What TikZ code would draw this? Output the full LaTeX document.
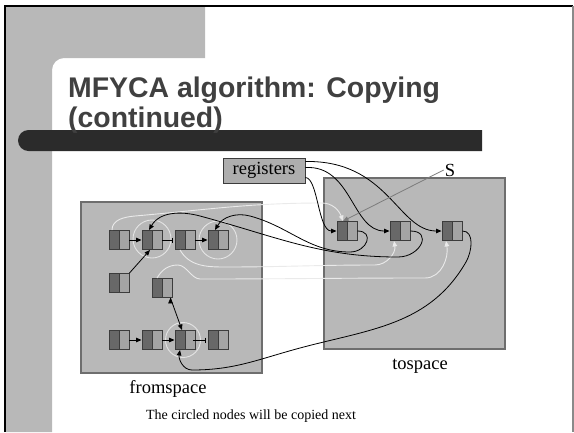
\documentclass[tikz,border=0pt]{standalone}
\usepackage{fontspec}
\setmainfont{Liberation Serif}
\newfontfamily\headfont{Liberation Sans}
\usepackage{tikz}
\usetikzlibrary{arrows.meta}

\definecolor{slidegray}{HTML}{B8B8B8}
\definecolor{boxline}{HTML}{6E6E6E}
\definecolor{celldark}{HTML}{686868}
\definecolor{celllight}{HTML}{A4A4A4}
\definecolor{cellline}{HTML}{3C3C3C}
\definecolor{fwdline}{HTML}{EAEAEA}
\definecolor{ringline}{HTML}{E4E4E4}
\definecolor{bardark}{HTML}{2B2B2B}
\definecolor{titlegray}{HTML}{404040}
\definecolor{framegray}{HTML}{8A8A8A}
\definecolor{regfill}{HTML}{AEAEAE}
\definecolor{sline}{HTML}{7C7C7C}

\tikzset{
    >={Triangle[length=5.5pt, width=4.5pt]}, % Default arrow tip
    x=1pt, y=1pt,
    cell/.style={
        draw=cellline, line width=0.9pt,
        minimum width=20pt, minimum height=19pt, inner sep=0pt,
        path picture={
            \fill[celldark] (path picture bounding box.south west) rectangle (path picture bounding box.north);
            \fill[celllight] (path picture bounding box.south) rectangle (path picture bounding box.north east);
            \draw[cellline, line width=0.9pt] (path picture bounding box.south) -- (path picture bounding box.north);
        }
    },
    space/.style={draw=boxline, fill=slidegray, line width=1.2pt, inner sep=0pt},
    spacename/.style={font=\fontsize{18.5}{22}\selectfont, inner sep=1pt},
    ptr/.style={->, line width=0.8pt},
    fwd/.style={->, draw=fwdline, line width=0.9pt},
    ring/.style={draw=ringline, line width=0.9pt},
    heading/.style={anchor=base west, inner sep=0pt, text=titlegray,
        font=\headfont\bfseries\fontsize{28.4}{31}\selectfont}
}
\def\rr{19}

\begin{document}
\begin{tikzpicture}
    \useasboundingbox (0,0) rectangle (574,-432);
    \fill[white] (0,0) rectangle (574,-432);

    % slide background
    \fill[slidegray]
        (6,-7) -- (205,-7) -- (205,-58) -- (64,-58)
        arc[start angle=90, end angle=180, radius=12]
        -- (52,-432) -- (6,-432) -- cycle
    ;
    \draw[line width=2pt] (5,-432) -- (5,-6) -- (573,-6);
    \draw[framegray, line width=1.5pt] (573,-6) -- (573,-432);
    \fill[bardark]
        (482,-130) -- (28.5,-130)
        arc[start angle=90, end angle=270, radius=10.5]
        -- (482,-151) -- cycle
    ;

    \node[heading] (title) at (68,-97) {MFYCA algorithm: Copying};
    \node[heading] (title2) at (68,-127) {(continued)};

    % the two semispaces
    \draw
        node[space, minimum width=181pt, minimum height=171pt] (fromsp) at (171.5,-287.5) {}
        node[space, minimum width=181pt, minimum height=171pt] (tosp) at (414.5,-263.5) {}
    ;
    \node[spacename] (fromlbl) at (168,-389) {fromspace};
    \node[spacename] (tolbl) at (420,-366) {tospace};
    \node[spacename, draw=cellline, fill=regfill, line width=0.9pt,
        minimum width=82pt, minimum height=25pt] (regs) at (264,-170.5) {registers};
    \node[spacename] (s) at (450,-170) {S};

    % cells
    \draw
        node[cell] (a) at (119,-240) {}
        node[cell] (b) at (152,-240) {}
        node[cell] (c) at (185,-240) {}
        node[cell] (d) at (218,-240) {}
        node[cell] (e) at (119,-283) {}
        node[cell] (f) at (162,-288) {}
        node[cell] (g) at (119,-340) {}
        node[cell] (h) at (152,-340) {}
        node[cell] (i) at (185,-340) {}
        node[cell] (j) at (218,-340) {}
        node[cell] (t1) at (347,-231) {}
        node[cell] (t2) at (400,-231) {}
        node[cell] (t3) at (452,-231) {}
    ;

    \draw
        [ring]
        (152,-239) circle (\rr)
        (218,-240) circle (\rr)
        (183,-340) circle (17.5)
    ;

    % pointers inside fromspace
    \draw
        [ptr]
        (a.east) edge (b.west)
        (c.east) edge (d.west)
        (g.east) edge (h.west)
        (h.east) edge (i.west)
        (e.north east) edge ([xshift=-2pt]b.south)
        ([xshift=-2pt]f.south east) edge ([xshift=-3pt]i.north)
    ;
    \draw
        [line width=0.8pt, -{Bar[width=5pt]}]
        (b.east) edge ([xshift=-2pt]c.west)
        (i.east) edge ([xshift=-2pt]j.west)
    ;

    % forwarding pointers
    \draw[fwd]
        ([xshift=-7pt]a.north) to[out=90, in=185] (135,-216)
        to[out=5, in=180] (322,-203)
        to[out=0, in=110] ([xshift=-4pt]t1.north)
    ;
    \draw[fwd]
        ([xshift=-5pt]c.south) to[out=-60, in=180] (225,-267)
        to[out=0, in=180] (375,-265)
        to[out=0, in=-80] ([xshift=-6pt]t2.south)
    ;
    \draw[fwd]
        ([xshift=-5pt]f.north) to[out=60, in=180] (178,-265)
        to[out=0, in=180, looseness=0.8] (200,-279)
        to[out=0, in=180] (425,-278)
        to[out=0, in=-80] ([xshift=-6pt]t3.south)
    ;

    % roots
    \draw[ptr]
        ([yshift=9pt]regs.east) .. controls (388,-160) and (398,-231) .. (t3.west)
    ;
    \draw[ptr]
        ([yshift=3pt]regs.east) .. controls (352,-165) and (352,-231) .. (t2.west)
    ;
    \draw[ptr]
        ([yshift=-7pt]regs.east) .. controls (318,-178) and (318,-231) .. (t1.west)
    ;

    % fields of the copied cells
    \draw[ptr]
        (t1.east) to[out=0, in=0, looseness=2] (350,-252)
        to[out=180, in=-15] (250,-216)
        to[out=165, in=60] ([xshift=-3pt]d.north)
    ;
    \draw[ptr]
        (t2.east) to[out=0, in=0, looseness=2] (398,-257)
        to[out=180, in=-15] (200,-216)
        to[out=165, in=60] ([xshift=-3pt]b.north)
    ;
    \draw[ptr]
        (t3.east) to[out=0, in=60] (466,-262)
        to[out=-120, in=15] (300,-348)
        to[out=195, in=0] (192,-370)
        to[out=180, in=-100] ([xshift=-5pt]i.south)
    ;

    \draw[->, sline, line width=0.8pt] (s.west) -- ([xshift=-4pt]t1.north);

    \node[font=\fontsize{14}{16}\selectfont] (note) at (251,-416) {The circled nodes will be copied next};
\end{tikzpicture}
\end{document}
